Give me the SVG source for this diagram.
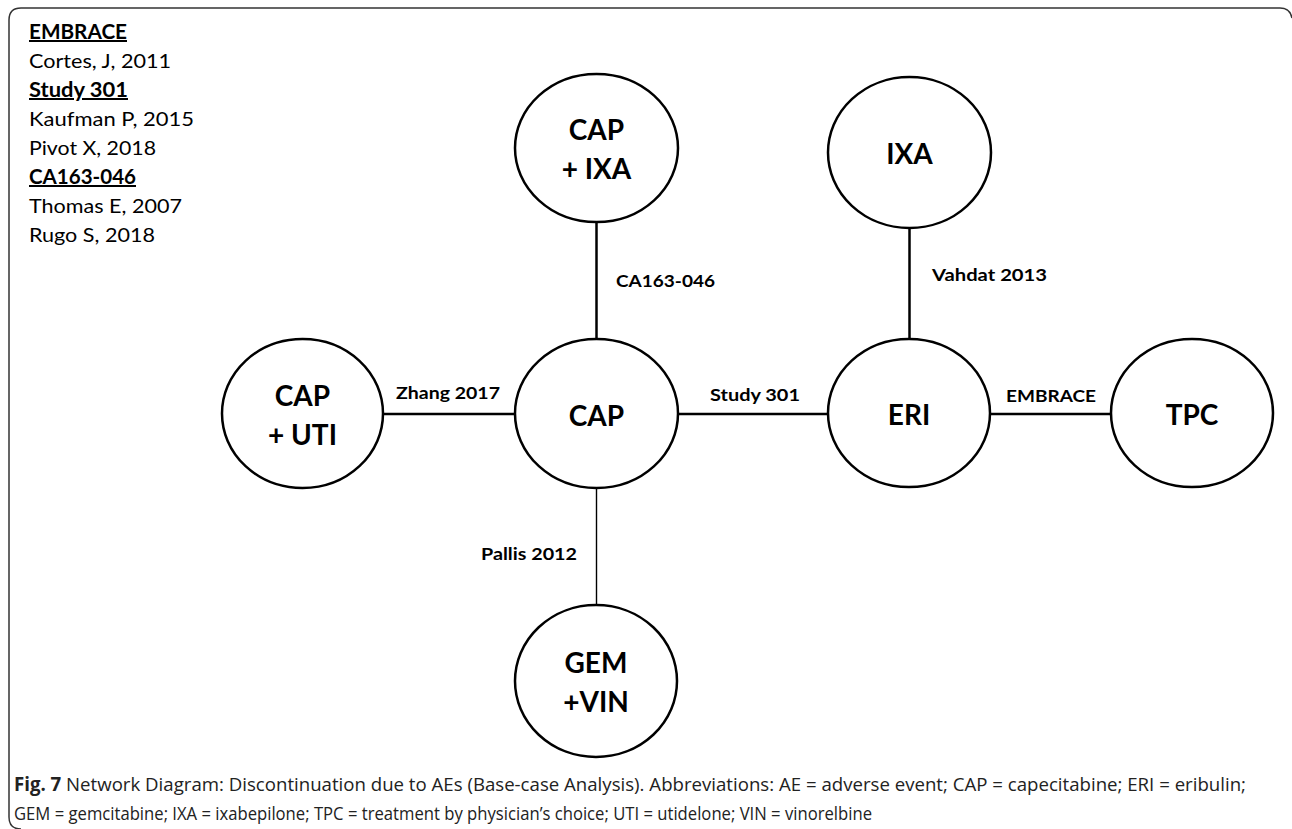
<svg xmlns="http://www.w3.org/2000/svg" width="1292" height="829" viewBox="0 0 1292 829">
<style>
.node ellipse{fill:#fff;stroke:#000;stroke-width:2.5}
.nl{font-family:Lato,"Open Sans",sans-serif;font-weight:bold;font-size:28px;fill:#000;text-anchor:middle}
.el{font-family:Lato,"Open Sans",sans-serif;font-weight:bold;font-size:17.5px;fill:#000}
.conn line{stroke:#000;stroke-width:2.5}
.leg{font-family:Lato,"Open Sans",sans-serif;font-size:20px;fill:#000}
.legh{font-weight:bold;text-decoration:underline}
.cap{font-family:"Liberation Sans Narrow","Open Sans",sans-serif;font-size:19px;fill:#222}
</style>
<rect width="1292" height="829" fill="#fff"/>
<path d="M1292,18 Q1290,8 1280,8 L21,8 Q9,8 9,20 L9,817 Q9,829 21,829" fill="none" stroke="#333" stroke-width="1.5"/>
<g id="legend" class="leg">
<text x="29" y="39" class="legh" textLength="98" lengthAdjust="spacingAndGlyphs">EMBRACE</text>
<text x="29" y="68" textLength="142" lengthAdjust="spacingAndGlyphs">Cortes, J, 2011</text>
<text x="29" y="97" class="legh" textLength="99" lengthAdjust="spacingAndGlyphs">Study 301</text>
<text x="29" y="126" textLength="165" lengthAdjust="spacingAndGlyphs">Kaufman P, 2015</text>
<text x="29" y="155" textLength="127" lengthAdjust="spacingAndGlyphs">Pivot X, 2018</text>
<text x="29" y="184" class="legh" textLength="107" lengthAdjust="spacingAndGlyphs">CA163-046</text>
<text x="29" y="213" textLength="153" lengthAdjust="spacingAndGlyphs">Thomas E, 2007</text>
<text x="29" y="242" textLength="126" lengthAdjust="spacingAndGlyphs">Rugo S, 2018</text>
</g>
<g id="connectors" class="conn">
<line x1="596.5" y1="222" x2="596.5" y2="339"/>
<line x1="909.5" y1="228" x2="909.5" y2="339"/>
<line x1="383" y1="414" x2="515" y2="414"/>
<line x1="678" y1="414" x2="828" y2="414"/>
<line x1="990" y1="414" x2="1111" y2="414"/>
<line x1="596.5" y1="488" x2="596.5" y2="605" style="stroke-width:1.4"/>
<text class="el" x="616" y="287" textLength="99" lengthAdjust="spacingAndGlyphs">CA163-046</text>
<text class="el" x="932" y="281" textLength="115" lengthAdjust="spacingAndGlyphs">Vahdat 2013</text>
<text class="el" x="396" y="399" textLength="104" lengthAdjust="spacingAndGlyphs">Zhang 2017</text>
<text class="el" x="710" y="401" textLength="90" lengthAdjust="spacingAndGlyphs">Study 301</text>
<text class="el" x="1006" y="402" textLength="90" lengthAdjust="spacingAndGlyphs">EMBRACE</text>
<text class="el" x="481" y="560" textLength="96" lengthAdjust="spacingAndGlyphs">Pallis 2012</text>
</g>
<g id="node-cap-ixa" class="node">
<ellipse cx="596.5" cy="148" rx="81.5" ry="74"/>
<text class="nl" x="596.5" y="140">CAP</text>
<text class="nl" x="596.5" y="179">+ IXA</text>
</g>
<g id="node-ixa" class="node">
<ellipse cx="909.5" cy="152.5" rx="81.5" ry="75.5"/>
<text class="nl" x="909.5" y="164">IXA</text>
</g>
<g id="node-cap-uti" class="node">
<ellipse cx="302.5" cy="413.5" rx="80.5" ry="74.5"/>
<text class="nl" x="302.5" y="406">CAP</text>
<text class="nl" x="302.5" y="445">+ UTI</text>
</g>
<g id="node-cap" class="node">
<ellipse cx="596.5" cy="413.5" rx="81.5" ry="74.5"/>
<text class="nl" x="596.5" y="426">CAP</text>
</g>
<g id="node-eri" class="node">
<ellipse cx="909" cy="413" rx="81" ry="74"/>
<text class="nl" x="909" y="425">ERI</text>
</g>
<g id="node-tpc" class="node">
<ellipse cx="1192" cy="413" rx="81" ry="74"/>
<text class="nl" x="1192" y="425">TPC</text>
</g>
<g id="node-gem-vin" class="node">
<ellipse cx="596" cy="681" rx="81" ry="76"/>
<text class="nl" x="596" y="673">GEM</text>
<text class="nl" x="596" y="712">+VIN</text>
</g>
<g id="caption" class="cap">
<text x="14" y="791" textLength="1232" lengthAdjust="spacingAndGlyphs"><tspan font-weight="bold">Fig. 7</tspan> Network Diagram: Discontinuation due to AEs (Base-case Analysis). Abbreviations: AE = adverse event; CAP = capecitabine; ERI = eribulin;</text>
<text x="14" y="820" textLength="858" lengthAdjust="spacingAndGlyphs">GEM = gemcitabine; IXA = ixabepilone; TPC = treatment by physician’s choice; UTI = utidelone; VIN = vinorelbine</text>
</g>
</svg>
